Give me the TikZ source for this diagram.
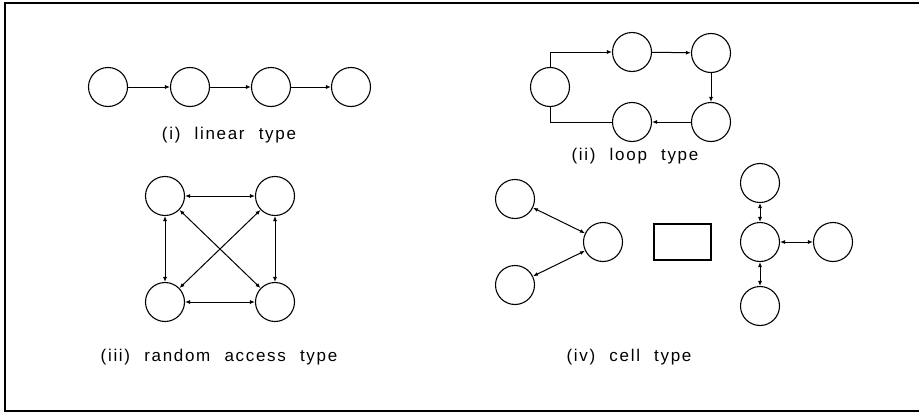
\documentclass[tikz,border=0pt]{standalone}
\usepackage{fontspec}
\usetikzlibrary{arrows.meta}
\newfontfamily\lblfont[LetterSpace=10.0,WordSpace=2.2]{Liberation Sans}
\begin{document}
\begin{tikzpicture}[x=1pt,y=-1pt,
  cnode/.style={draw,circle,line width=1.1pt,minimum size=39pt,inner sep=0pt},
  conn/.style={line width=1pt},
  arr/.style={conn,-{Latex[length=5pt,width=4pt]}},
  biarr/.style={conn,{Latex[length=5pt,width=4pt]}-{Latex[length=5pt,width=4pt]}},
  lbl/.style={font=\lblfont\fontsize{17pt}{20pt}\selectfont,inner sep=0pt}]
\useasboundingbox (0,0) rectangle (919,415);
% frame
\coordinate (ftl) at (5,3);
\coordinate (ftr) at (919,3);
\coordinate (fbl) at (5,411);
\coordinate (fbr) at (919,411);
\draw[line width=1.4pt] (ftr) -- (ftl) -- (fbl) -- (fbr);
% (i) linear
\node[cnode] (l1) at (108,87) {};
\node[cnode] (l2) at (190,87) {};
\node[cnode] (l3) at (271,87) {};
\node[cnode] (l4) at (351,87) {};
\draw[arr] (l1) -- (l2);
\draw[arr] (l2) -- (l3);
\draw[arr] (l3) -- (l4);
\node[lbl] (t1) at (229,135) {(i) linear type};
% (ii) loop
\node[cnode] (p0) at (550,87) {};
\node[cnode] (p1) at (632,52) {};
\node[cnode] (p2) at (711,53) {};
\node[cnode] (p3) at (711,122) {};
\node[cnode] (p4) at (632,122) {};
\draw[arr] (p0.north) |- (p1.west);
\draw[arr] (p1) -- (p2);
\draw[arr] (p2) -- (p3);
\draw[arr] (p3) -- (p4);
\draw[conn] (p4.west) -| (p0.south);
\node[lbl] (t2) at (635,156) {(ii) loop type};
% (iii) random access
\node[cnode] (r1) at (165,196) {};
\node[cnode] (r2) at (275,196) {};
\node[cnode] (r3) at (165,302) {};
\node[cnode] (r4) at (275,302) {};
\draw[biarr] (r1) -- (r2);
\draw[biarr] (r3) -- (r4);
\draw[biarr] (r1) -- (r3);
\draw[biarr] (r2) -- (r4);
\draw[biarr] (r1) -- (r4);
\draw[biarr] (r2) -- (r3);
\node[lbl] (t3) at (219,357) {(iii) random access type};
% (iv) cell
\node[cnode] (c1) at (515,199) {};
\node[cnode] (c0) at (603,242) {};
\node[cnode] (c2) at (515,285) {};
\draw[biarr] (c1) -- (c0);
\draw[biarr] (c2) -- (c0);
\node[draw,line width=1.1pt,minimum width=57pt,minimum height=36pt,inner sep=0pt] (box) at (682.5,242) {};
\node[cnode] (d0) at (760,242) {};
\node[cnode] (d1) at (760,183) {};
\node[cnode] (d2) at (833,242) {};
\node[cnode] (d3) at (760,306) {};
\draw[biarr] (d1) -- (d0);
\draw[biarr] (d0) -- (d2);
\draw[biarr] (d0) -- (d3);
\node[lbl] (t4) at (629,357) {(iv) cell type};
\end{tikzpicture}
\end{document}
